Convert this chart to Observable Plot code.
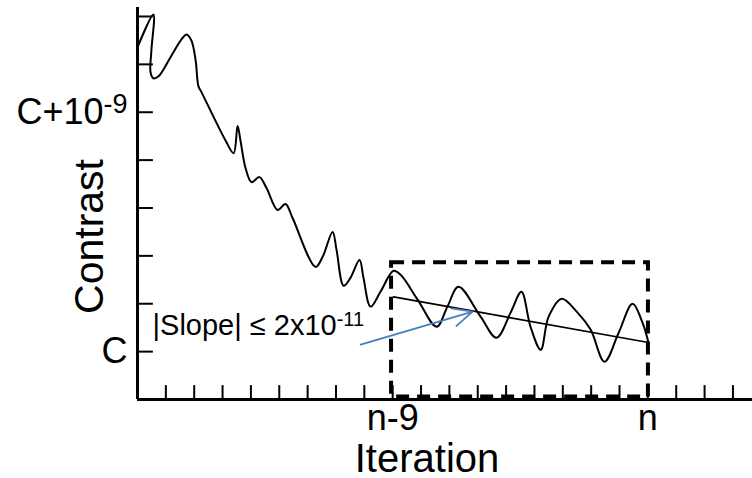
<!DOCTYPE html>
<html><head><meta charset="utf-8">
<script src="https://cdn.jsdelivr.net/npm/d3@7"></script>
<script src="https://cdn.jsdelivr.net/npm/@observablehq/plot@0.6"></script>
<style>
body{margin:0;background:#fff}
svg{font-family:"Liberation Sans",Arial,sans-serif}
</style>
</head><body><div id="chart"></div>
<script>
// Iteration index (n-9 = 9, n = 18) and contrast offset from C in units of 1e-10
const iteration = [0.00,0.56,0.49,0.46,0.56,0.74,1.16,1.55,1.73,1.90,2.05,2.15,2.26,3.10,3.39,3.53,3.63,3.81,4.02,4.30,4.55,4.94,5.22,5.47,6.28,6.53,6.88,7.02,7.27,7.51,7.83,7.97,8.22,8.57,9.03,9.28,9.88,10.55,10.93,11.32,12.10,12.66,13.16,13.54,13.86,14.22,14.50,14.96,15.52,15.98,16.47,16.97,17.46,17.81,18.02];
const contrast  = [12.71,14.08,12.58,11.67,11.42,11.50,12.29,13.04,13.25,13.00,12.17,11.08,10.83,8.83,8.29,9.42,8.83,7.67,7.08,7.29,6.83,5.92,6.17,5.58,3.54,3.96,5.00,4.25,2.75,3.08,3.83,3.08,1.88,2.50,3.38,3.21,2.17,1.04,1.88,2.71,1.46,0.58,1.63,2.50,1.04,0.08,1.46,2.21,1.63,0.92,-0.42,0.79,2.00,1.21,0.38];
const trendX = [9.03, 18.02];
const trendY = [2.29, 0.38];
const arrowFrom = [7.87, 0.29];
const arrowTo = [11.82, 1.67];
const windowX = [8.96, 18.02];
const windowY = [-1.9, 3.71];
const xTickValues = d3.range(1, 22);
const yTickValues = [0, 2, 4, 6, 8, 10, 12, 14];
const xLabelValues = [9, 18];
const xLabelTexts = ["n-9", "n"];
const yLabelValues = [0, 10];
const yLabelTexts = ["C", "C+10-9"];
const annotationText = "|Slope| ≤ 2x10-11";
const annotationPos = [0.53, 1.08];

const curve = iteration.map((x, i) => ({x, y: contrast[i]}));
const trend = trendX.map((x, i) => ({x, y: trendY[i]}));

const chart = Plot.plot({
  width: 752, height: 478,
  marginLeft: 137, marginRight: 0, marginTop: 7, marginBottom: 79,
  x: {domain: [0, 21.69], axis: null},
  y: {domain: [-2, 14.375], axis: null},
  style: {background: "#fff", color: "#000", fontFamily: '"Liberation Sans", Arial, sans-serif'},
  marks: [
    Plot.line(curve, {x: "x", y: "y", curve: "catmull-rom", stroke: "#000", strokeWidth: 2}),
    Plot.line(trend, {x: "x", y: "y", stroke: "#000", strokeWidth: 1.7}),
    Plot.rect([{x1: windowX[0], x2: windowX[1], y1: windowY[0], y2: windowY[1]}],
      {x1: "x1", x2: "x2", y1: "y1", y2: "y2", fill: "none", stroke: "#000", strokeWidth: 4, strokeDasharray: "13,8"}),
    Plot.arrow([{x1: arrowFrom[0], y1: arrowFrom[1], x2: arrowTo[0], y2: arrowTo[1]}],
      {x1: "x1", y1: "y1", x2: "x2", y2: "y2", stroke: "#4A7EBB", strokeWidth: 1.8, headLength: 18, headAngle: 50, bend: 0}),
    Plot.ruleX(xTickValues, {y1: -2, y2: -1.42, stroke: "#000", strokeWidth: 2}),
    Plot.ruleY(yTickValues, {x1: 0, x2: 0.56, stroke: "#000", strokeWidth: 2}),
    Plot.ruleX([0], {stroke: "#000", strokeWidth: 3}),
    Plot.ruleY([-2], {stroke: "#000", strokeWidth: 3}),
    Plot.axisX(xLabelValues, {tickSize: 0, tickPadding: 5, fontSize: 36, label: null,
      tickFormat: d => xLabelTexts[xLabelValues.indexOf(d)]}),
    Plot.axisY(yLabelValues, {tickSize: 0, tickPadding: 10, fontSize: 36, label: null,
      tickFormat: d => yLabelTexts[yLabelValues.indexOf(d)]}),
    Plot.text(["Iteration"], {frameAnchor: "bottom", dx: -18, dy: 72, fontSize: 40, text: d => d}),
    Plot.text(["Contrast"], {frameAnchor: "left", textAnchor: "middle", rotate: -90, dx: -48, dy: 33, fontSize: 41, text: d => d}),
    Plot.text([annotationText], {x: () => annotationPos[0], y: () => annotationPos[1], textAnchor: "start", fontSize: 29, text: d => d})
  ]
});

// superscripts
function superscript(el, base, sup, size, raise) {
  el.textContent = "";
  const ns = "http://www.w3.org/2000/svg";
  const t1 = document.createElementNS(ns, "tspan"); t1.textContent = base; el.appendChild(t1);
  const t2 = document.createElementNS(ns, "tspan"); t2.textContent = sup;
  t2.setAttribute("font-size", size); t2.setAttribute("dy", -raise); el.appendChild(t2);
}
chart.querySelectorAll("text").forEach(el => {
  if (el.textContent === "C+10-9") superscript(el, "C+10", "-9", 27, 11);
  else if (el.textContent === annotationText) superscript(el, "|Slope| ≤ 2x10", "-11", 20, 9);
});
document.getElementById("chart").appendChild(chart);
</script>
</body></html>
